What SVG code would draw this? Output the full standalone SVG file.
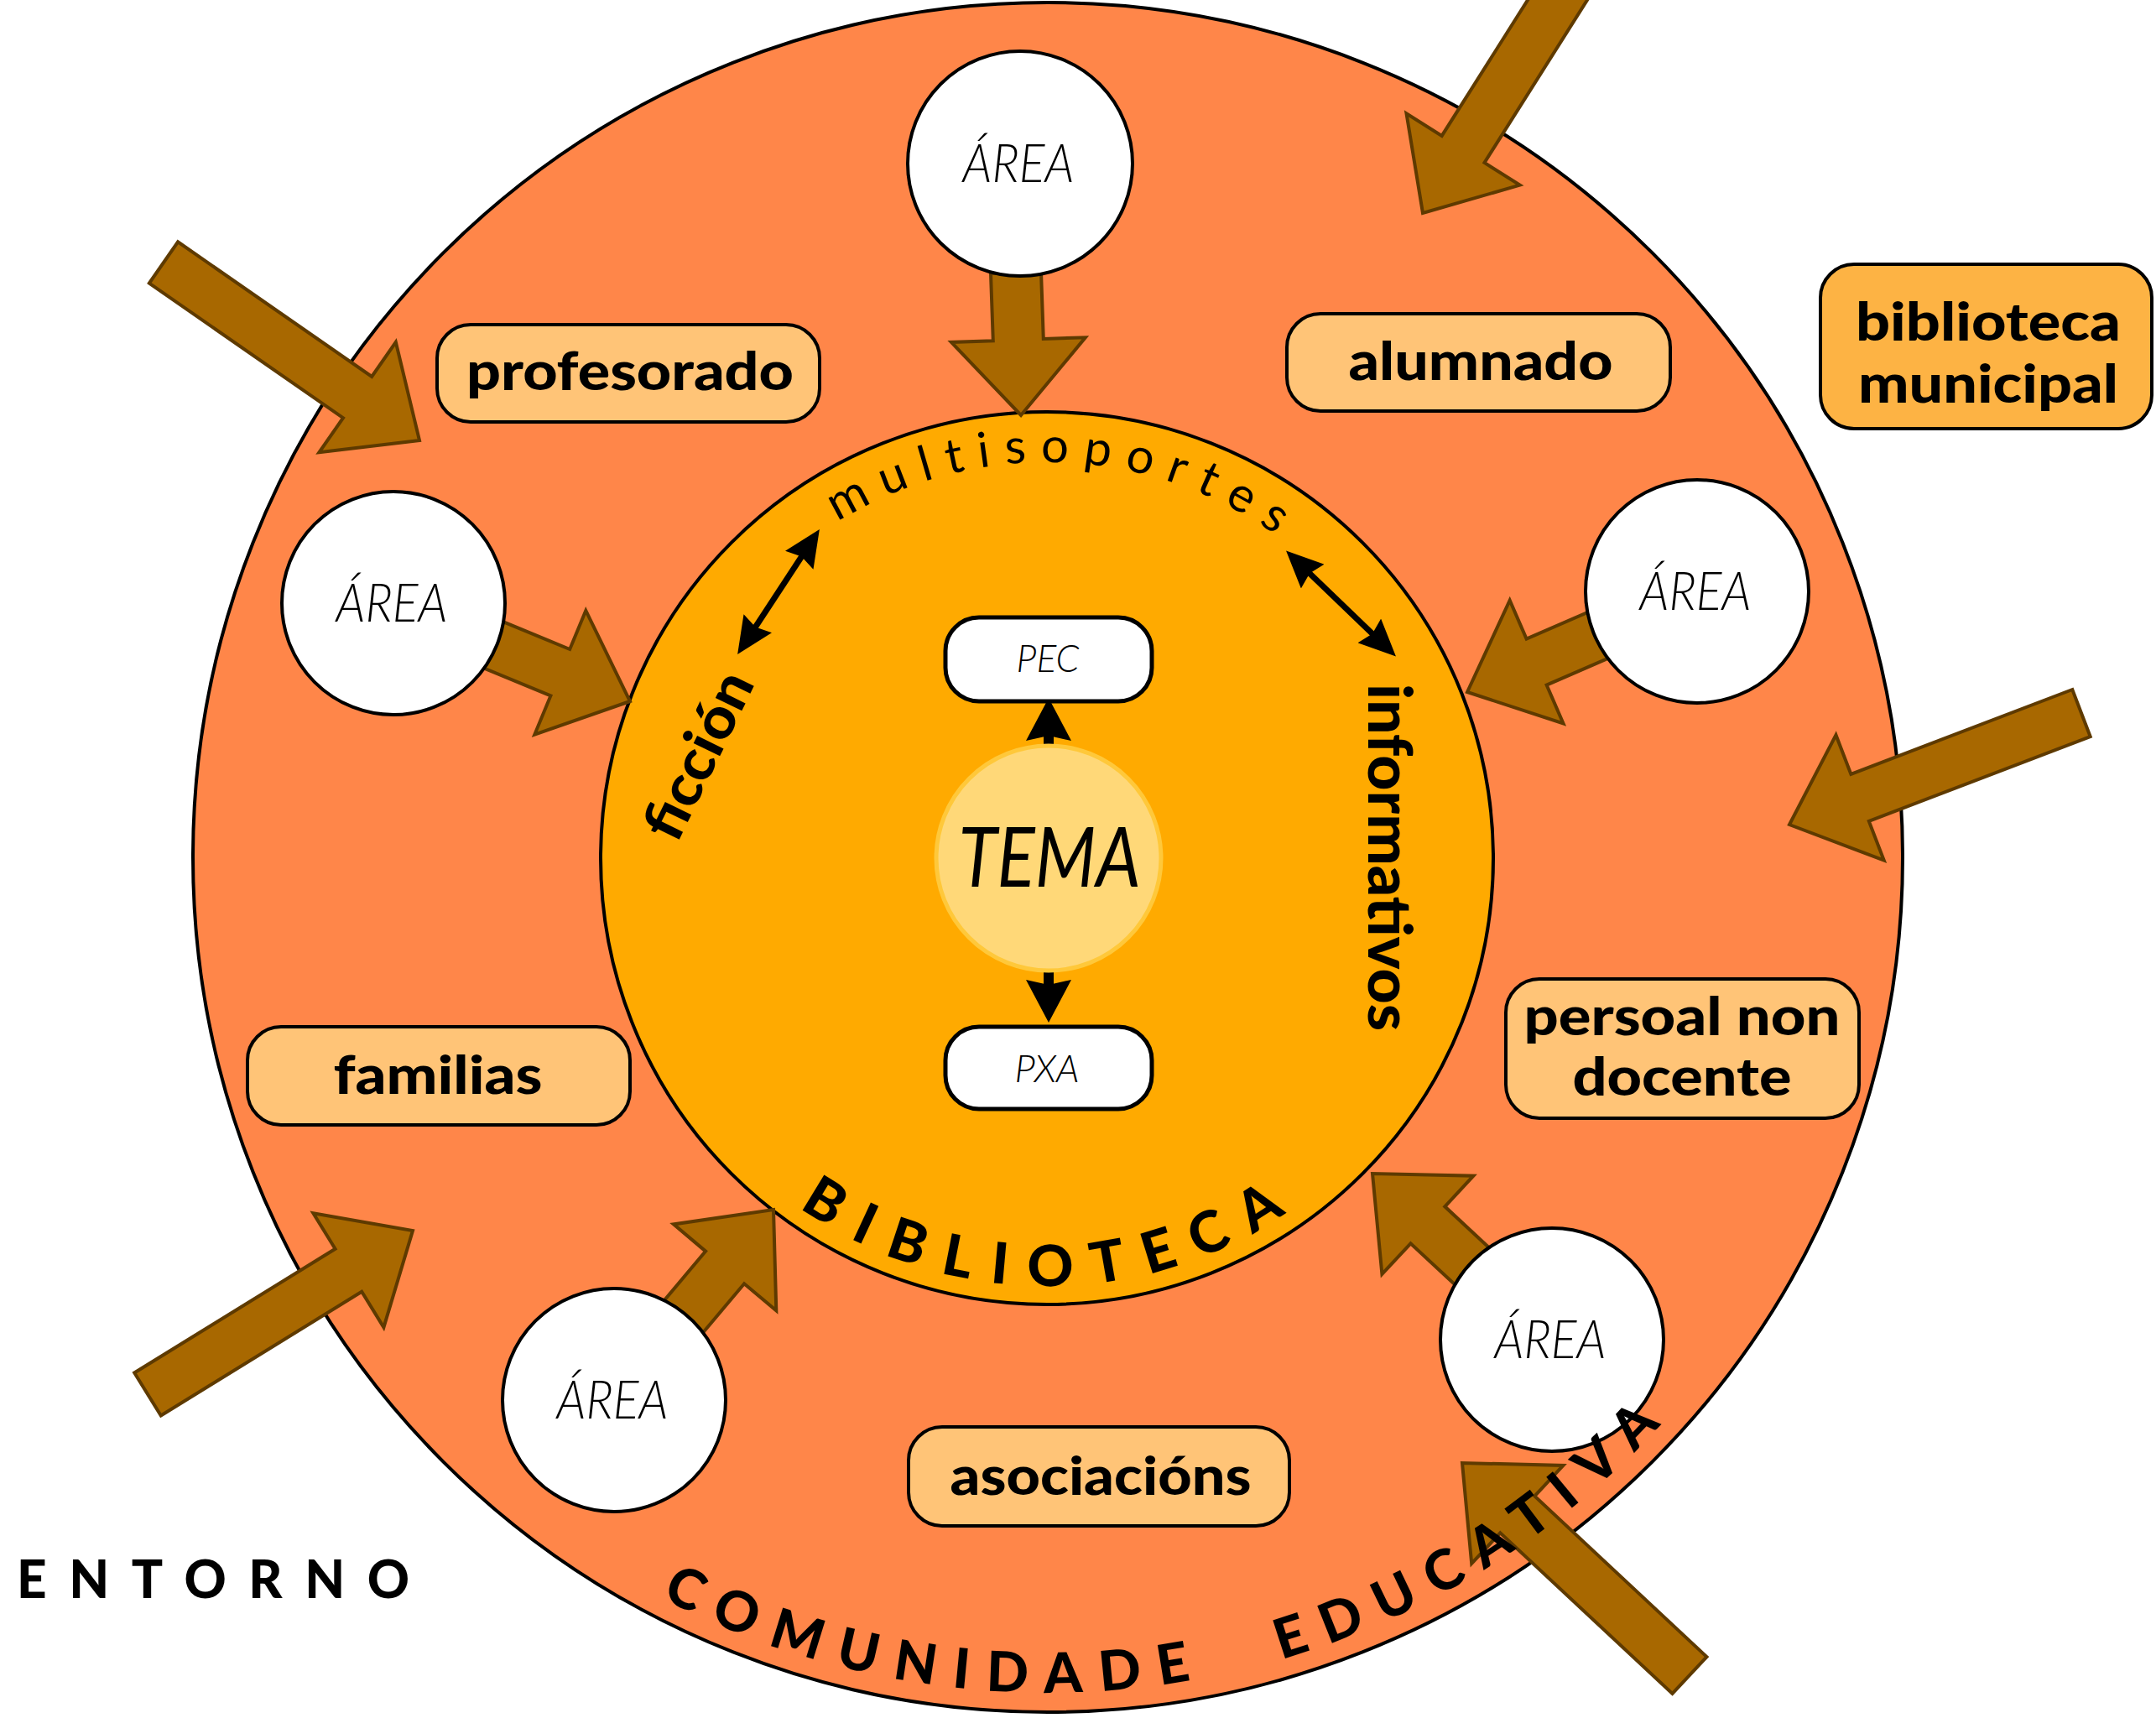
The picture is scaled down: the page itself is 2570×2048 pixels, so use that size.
<svg xmlns="http://www.w3.org/2000/svg" width="2570" height="2048" viewBox="0 0 2570 2048">
<defs>
<style>
.lbl{font-family:Lato,"Open Sans","Liberation Sans",sans-serif;font-weight:900;font-size:62px;fill:#000;text-anchor:middle}
.area{font-family:Lato,"Open Sans","Liberation Sans",sans-serif;font-style:italic;font-weight:300;font-size:64px;fill:#000;text-anchor:middle}
.small{font-family:Lato,"Open Sans","Liberation Sans",sans-serif;font-style:italic;font-weight:300;font-size:46px;fill:#000;text-anchor:middle}
.curve{font-family:Lato,"Open Sans","Liberation Sans",sans-serif;fill:#000}
.box{fill:#FFC477;stroke:#000;stroke-width:4}
.arr{fill:#A86800;stroke:#5E3A00;stroke-width:4;stroke-linejoin:miter}
.circ{fill:#fff;stroke:#000;stroke-width:4}
.blk{stroke:#000;fill:none}
</style>
<path id="pMulti" d="M 776 1023 A 472 472 0 0 1 1720 1023"/>
<path id="pBib" d="M 738 1023 A 510 510 0 0 0 1758 1023"/>
<path id="pCom" d="M 253 1022 A 996 996 0 0 0 2245 1022"/>
<marker id="ahBig" viewBox="0 0 51 54" refX="31" refY="27" markerWidth="51" markerHeight="54" markerUnits="userSpaceOnUse" orient="auto-start-reverse">
<path d="M0,0 L51,27 L0,54 L6,27 z" fill="#000"/>
</marker>
<marker id="ahSm" viewBox="0 0 44 40" refX="26" refY="20" markerWidth="44" markerHeight="40" markerUnits="userSpaceOnUse" orient="auto-start-reverse">
<path d="M0,0 L44,20 L0,40 L5,20 z" fill="#000"/>
</marker>
</defs>

<g id="comunidade">
<circle cx="1249" cy="1022" r="1019" fill="#FF8649" stroke="#000" stroke-width="4"/>
</g>
<g id="biblioteca">
<circle cx="1248" cy="1023" r="532" fill="#FFAA00" stroke="#000" stroke-width="4"/>
</g>

<g id="connectors">
<polygon class="arr" points="1181.0,326.1 1183.8,406.2 1133.9,407.9 1217,495 1293.8,402.3 1243.8,404.0 1241.0,323.9"/>
<polygon class="arr" points="1895.0,-116.9 1718.7,161.9 1676.5,135.2 1696,254 1811.7,220.6 1769.5,193.9 1945.7,-84.9"/>
<polygon class="arr" points="177.9,337.6 409.0,498.2 380.4,539.3 500,525 471.8,407.9 443.2,449.0 212.1,288.4"/>
<polygon class="arr" points="458.6,747.7 656.4,829.4 637.3,875.6 751,836 698.3,727.8 679.2,774.0 481.4,692.3"/>
<polygon class="arr" points="2011.0,678.5 1819.6,761.6 1799.7,715.7 1749,825 1863.5,862.5 1843.6,816.6 2035.0,733.5"/>
<polygon class="arr" points="2470.3,822.0 2206.4,922.9 2188.5,876.2 2133,983 2245.7,1025.6 2227.8,978.9 2491.7,878.0"/>
<polygon class="arr" points="191.8,1687.5 431.2,1539.8 457.4,1582.4 492,1467 373.4,1446.2 399.6,1488.8 160.2,1636.5"/>
<polygon class="arr" points="754.0,1688.3 887.1,1530.2 925.3,1562.4 922,1442 802.9,1459.4 841.1,1491.6 708.0,1649.7"/>
<polygon class="arr" points="1869.4,1575.0 1722.3,1438.3 1756.4,1401.7 1636,1399 1647.4,1518.9 1681.5,1482.3 1828.6,1619.0"/>
<polygon class="arr" points="2034.5,1975.1 1829.3,1783.5 1863.4,1746.9 1743,1744 1754.2,1863.9 1788.3,1827.3 1993.5,2018.9"/>
<line class="blk" x1="1250" y1="900" x2="1250" y2="852" stroke-width="12" marker-end="url(#ahBig)"/>
<line class="blk" x1="1250" y1="1146" x2="1250" y2="1199" stroke-width="12" marker-end="url(#ahBig)"/>
<line class="blk" x1="889" y1="765" x2="967" y2="646" stroke-width="7" marker-start="url(#ahSm)" marker-end="url(#ahSm)"/>
<line class="blk" x1="1546" y1="669" x2="1651" y2="770" stroke-width="7" marker-start="url(#ahSm)" marker-end="url(#ahSm)"/>
</g>

<g id="area-top"><circle class="circ" cx="1216" cy="195" r="134"/><text class="area" x="1214" y="217" textLength="133" lengthAdjust="spacingAndGlyphs">ÁREA</text></g>
<g id="area-left"><circle class="circ" cx="469" cy="719" r="133"/><text class="area" x="467" y="741" textLength="133" lengthAdjust="spacingAndGlyphs">ÁREA</text></g>
<g id="area-right"><circle class="circ" cx="2023" cy="705" r="133"/><text class="area" x="2021" y="727" textLength="133" lengthAdjust="spacingAndGlyphs">ÁREA</text></g>
<g id="area-bottom-left"><circle class="circ" cx="732" cy="1669" r="133"/><text class="area" x="730" y="1691" textLength="133" lengthAdjust="spacingAndGlyphs">ÁREA</text></g>
<g id="area-bottom-right"><circle class="circ" cx="1850" cy="1597" r="133"/><text class="area" x="1848" y="1619" textLength="133" lengthAdjust="spacingAndGlyphs">ÁREA</text></g>

<g id="profesorado"><rect class="box" x="521" y="387" width="456" height="116" rx="40"/><text class="lbl" x="751" y="465" textLength="390" lengthAdjust="spacingAndGlyphs">profesorado</text></g>
<g id="alumnado"><rect class="box" x="1534" y="374" width="457" height="116" rx="40"/><text class="lbl" x="1765" y="453" textLength="315" lengthAdjust="spacingAndGlyphs">alumnado</text></g>
<g id="biblioteca-municipal"><rect x="2170" y="315" width="395" height="196" rx="40" fill="#FDB344" stroke="#000" stroke-width="4"/><text class="lbl" x="2370" y="406" textLength="316" lengthAdjust="spacingAndGlyphs">biblioteca</text><text class="lbl" x="2370" y="480" textLength="310" lengthAdjust="spacingAndGlyphs">municipal</text></g>
<g id="familias"><rect class="box" x="295" y="1224" width="456" height="117" rx="40"/><text class="lbl" x="522" y="1304" textLength="249" lengthAdjust="spacingAndGlyphs">familias</text></g>
<g id="persoal"><rect class="box" x="1795" y="1167" width="421" height="166" rx="40"/><text class="lbl" x="2005" y="1234" textLength="377" lengthAdjust="spacingAndGlyphs">persoal non</text><text class="lbl" x="2005" y="1306" textLength="261" lengthAdjust="spacingAndGlyphs">docente</text></g>
<g id="asociacions"><rect class="box" x="1083" y="1701" width="454" height="118" rx="40"/><text class="lbl" x="1312" y="1782" textLength="359" lengthAdjust="spacingAndGlyphs">asociacións</text></g>

<g id="pec"><rect x="1127" y="736" width="246" height="100" rx="40" fill="#fff" stroke="#000" stroke-width="5"/><text class="small" x="1249" y="801" textLength="75" lengthAdjust="spacingAndGlyphs">PEC</text></g>
<g id="pxa"><rect x="1127" y="1224" width="246" height="98" rx="40" fill="#fff" stroke="#000" stroke-width="5"/><text class="small" x="1248" y="1290" textLength="77" lengthAdjust="spacingAndGlyphs">PXA</text></g>
<g id="tema"><circle cx="1250" cy="1023" r="134" fill="#FFD878" stroke="#FFC83A" stroke-width="5"/><text x="1251" y="1057" font-family="Lato,'Open Sans','Liberation Sans',sans-serif" font-style="italic" font-size="100" text-anchor="middle" textLength="217" lengthAdjust="spacingAndGlyphs">TEMA</text></g>

<g id="labels">
<text class="curve" font-size="58" letter-spacing="17"><textPath href="#pMulti" startOffset="51.5%" text-anchor="middle">multisoportes</textPath></text>
<text class="curve" font-size="68" font-weight="900" letter-spacing="25"><textPath href="#pBib" startOffset="50.4%" text-anchor="middle">BIBLIOTECA</textPath></text>
<text class="curve" font-size="66" font-weight="900" letter-spacing="21"><textPath href="#pCom" startOffset="55.8%" text-anchor="middle">COMUNIDADE <tspan dx="52">EDUCATIVA</tspan></textPath></text>
<text class="curve" font-size="68" font-weight="900" text-anchor="middle" transform="translate(832,900) rotate(-64)" x="0" y="24" textLength="214" lengthAdjust="spacingAndGlyphs">ficción</text>
<text class="curve" font-size="72" font-weight="900" text-anchor="middle" transform="translate(1657,1022) rotate(90)" x="0" y="26" textLength="414" lengthAdjust="spacingAndGlyphs">informativos</text>
<text class="curve" x="20" y="1905" font-size="62" font-weight="900" textLength="468" lengthAdjust="spacing">ENTORNO</text>
</g>
</svg>
